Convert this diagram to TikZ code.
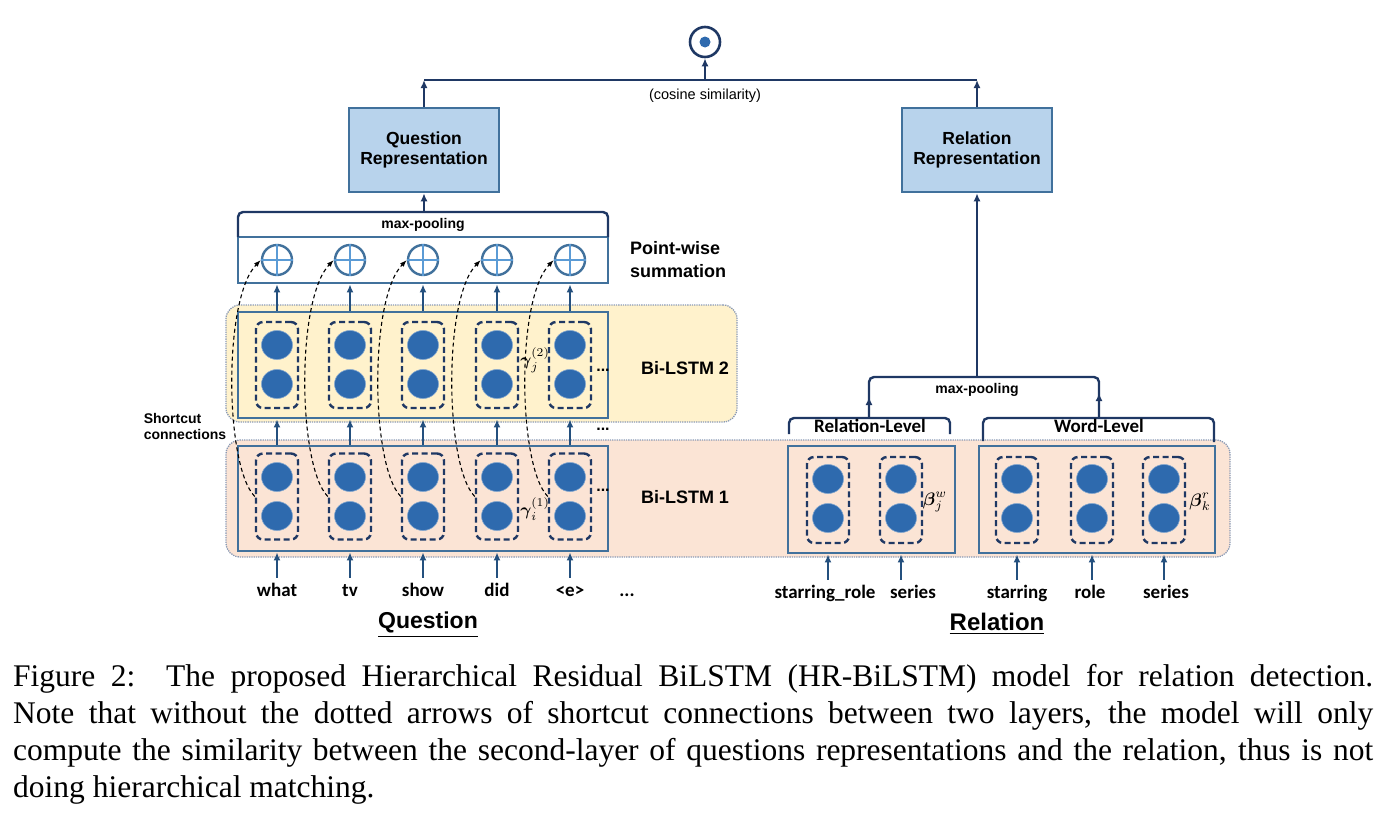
\documentclass[tikz,border=0pt]{standalone}
\usepackage{amsmath}
\usepackage{fontspec}
\setmainfont{Liberation Serif}
\newfontfamily\lsans{Liberation Sans}
\newfontfamily\calib{Carlito}
\usetikzlibrary{arrows.meta,shapes.geometric}
\definecolor{navy}{HTML}{1F3864}
\definecolor{arrowblue}{HTML}{24507E}
\definecolor{steel}{HTML}{41719C}
\definecolor{cellblue}{HTML}{2E6AAE}
\definecolor{plusblue}{HTML}{5B9BD5}
\definecolor{repfill}{HTML}{B8D3EC}
\definecolor{yellowbg}{HTML}{FFF2CC}
\definecolor{pinkbg}{HTML}{FBE4D5}
\definecolor{bgline}{HTML}{8A9AB5}
\tikzset{
  arr/.style={-{Latex[length=8,width=7]}, line width=2.2, draw=arrowblue},
  navyarr/.style={-{Latex[length=8,width=7]}, line width=2.2, draw=navy},
  bracket/.style={draw=navy, line width=2.4, rounded corners=5},
  cellbox/.style={draw=navy, line width=2.4, dash pattern=on 6 off 3.5, rounded corners=7, minimum width=42, minimum height=86, inner sep=0},
  neuron/.style={ellipse, fill=cellblue, draw=cellblue!60!white, line width=0.6, minimum width=31, minimum height=29, inner sep=0},
  inbox/.style={draw=steel, line width=2.8, minimum width=370, inner sep=0},
  bgbox/.style={rounded corners=14, draw=bgline, densely dotted, line width=1.3, inner sep=0},
  repbox/.style={draw=steel, line width=2.6, fill=repfill, minimum width=150, minimum height=84, align=center, font={\lsans\bfseries\fontsize{17.5}{20}\selectfont}},
  plus/.style={circle, draw=steel, line width=2.4, fill=white, minimum size=30, inner sep=0},
  shortcut/.style={-{Latex[length=7,width=5]}, draw=black, line width=1.1, dash pattern=on 4 off 3},
  lbl/.style={font={\lsans\bfseries\fontsize{18}{23}\selectfont}, inner sep=0},
  small/.style={font={\lsans\bfseries\fontsize{14}{16}\selectfont}, inner sep=0},
  word/.style={font={\calib\bfseries\fontsize{19}{20}\selectfont}, anchor=base, text height=13, text depth=4, inner xsep=1, inner ysep=5},
  mlbl/.style={inner sep=0},
  dots/.style={font={\lsans\bfseries\fontsize{16}{16}\selectfont}, inner sep=0}
}
\begin{document}
\begin{tikzpicture}[x=1pt,y=-1pt]
\useasboundingbox (0,0) rectangle (1388,822);

% ---------- backgrounds ----------
\node[bgbox, fill=yellowbg, minimum width=511, minimum height=117] (bg2) at (481.5,363.5) {};
\node[bgbox, fill=pinkbg, minimum width=1004, minimum height=117] (bg1) at (728,498.5) {};

% ---------- top ----------
\node[circle, draw=navy, line width=2.6, minimum size=30, inner sep=0] (dot) at (705,42) {};
\node[circle, fill=cellblue, minimum size=11, inner sep=0] (dotin) at (dot) {};
\node[repbox] (qrep) at (424,150) {Question\\Representation};
\node[repbox] (rrep) at (977,150) {Relation\\Representation};
\coordinate (jl) at (424,80);
\coordinate (jr) at (977,80);
\coordinate (jm) at (705,80);
\draw[navy, line width=2.2] (jl) -- (jr);
\draw[navyarr] (qrep.north) -- (jl);
\draw[navyarr] (rrep.north) -- (jr);
\draw[navyarr] (jm) -- (dot.south);
\node[font={\lsans\fontsize{14.5}{16}\selectfont}, inner sep=0] (cos) at (705,96) {(cosine similarity)};

% ---------- question max-pooling + point-wise ----------
\node[inbox, minimum height=46] (pw) at (423,260) {};
\draw[bracket] (238,237) -- (238,212) -- (608,212) -- (608,237);
\coordinate (qmp) at (424,212);
\node[small] (qmplbl) at (423,225) {max-pooling};
\draw[navyarr] (qmp) -- (qrep.south);
\node[lbl, anchor=west, align=left] (pwlbl) at (630,260) {Point-wise\\summation};

% ---------- inner boxes ----------
\node[inbox, minimum height=106] (box2) at (423,365) {};
\node[inbox, minimum height=105] (box1) at (423,498.5) {};
\node[inbox, minimum width=167, minimum height=107] (rbox) at (871.5,499.5) {};
\node[inbox, minimum width=236, minimum height=107] (wbox) at (1097,499.5) {};

% ---------- question columns ----------
\foreach \i/\x/\w in {1/277/what,2/350/tv,3/423/show,4/497/did,5/570/{<e>}}{
  \node[plus] (p\i) at (\x,260) {};
  \draw[plusblue, line width=2] (p\i.north) -- (p\i.south) (p\i.west) -- (p\i.east);
  \node[cellbox] (qb\i) at (\x,365) {};
  \node[neuron] (qbu\i) at (\x,345) {};
  \node[neuron] (qbd\i) at (\x,384) {};
  \node[cellbox] (qa\i) at (\x,496.5) {};
  \node[neuron] (qau\i) at (\x,477) {};
  \node[neuron] (qad\i) at (\x,516) {};
  \node[word] (w\i) at (\x,596) {\w};
  \draw[arr] (box2.north -| p\i) -- (pw.south -| p\i);
  \draw[arr] (box1.north -| p\i) -- (box2.south -| p\i);
  \draw[arr] (w\i.north) -- (box1.south -| w\i);
}
\foreach \i in {1,...,5}{
  \draw[shortcut] (qa\i.west) .. controls +(-30,-30) and +(-38,39) .. (p\i.west);
}
\node[word] (w6) at (627,596) {...};
\node[dots] (d2) at (603,370) {...};
\node[dots] (d12) at (603,429) {...};
\node[dots] (d1) at (603,490) {...};
\node[mlbl] (g2) at (535,360) {\scalebox{1.7}{$\boldsymbol{\gamma}^{(2)}_{j}$}};
\node[mlbl] (g1) at (535,509) {\scalebox{1.7}{$\boldsymbol{\gamma}^{(1)}_{i}$}};
\node[lbl] (l2) at (685,368) {Bi-LSTM 2};
\node[lbl] (l1) at (685,497) {Bi-LSTM 1};
\node[small, align=left] (sc) at (185,426) {Shortcut\\connections};
\node[font={\lsans\bfseries\fontsize{23}{26}\selectfont}, inner sep=0] (qtitle) at (428,625) {\underline{Question}};

% ---------- relation columns ----------
\foreach \i/\x in {1/828,2/901}{
  \node[cellbox] (rc\i) at (\x,500) {};
  \node[neuron] (rcu\i) at (\x,479) {};
  \node[neuron] (rcd\i) at (\x,518) {};
}
\foreach \i/\x in {1/1017,2/1092,3/1164}{
  \node[cellbox] (wc\i) at (\x,500) {};
  \node[neuron] (wcu\i) at (\x,479) {};
  \node[neuron] (wcd\i) at (\x,518) {};
}
\node[word] (rw1) at (825,598) {starring\_role};
\node[word] (rw2) at (913,598) {series};
\node[word] (ww1) at (1017,598) {starring};
\node[word] (ww2) at (1090,598) {role};
\node[word] (ww3) at (1166,598) {series};
\draw[arr] (rw1.north -| rc1) -- (rbox.south -| rc1);
\draw[arr] (rw2.north -| rc2) -- (rbox.south -| rc2);
\draw[arr] (ww1.north -| wc1) -- (wbox.south -| wc1);
\draw[arr] (ww2.north -| wc2) -- (wbox.south -| wc2);
\draw[arr] (ww3.north -| wc3) -- (wbox.south -| wc3);
\node[mlbl] (bw) at (935,502) {\scalebox{1.8}{$\boldsymbol{\beta}^{w}_{j}$}};
\node[mlbl] (br) at (1200,502) {\scalebox{1.8}{$\boldsymbol{\beta}^{r}_{k}$}};

% brackets
\draw[bracket] (789,434) -- (789,418) -- (950,418) -- (950,434);
\draw[bracket] (983,441) -- (983,418) -- (1214,418) -- (1214,442);
\node[word, anchor=center, inner ysep=0] (rl) at (870,428) {Relation-Level};
\node[word, anchor=center, inner ysep=0] (wl) at (1099,428) {Word-Level};
\coordinate (rlt) at (869,418);
\coordinate (wlt) at (1099,418);
\coordinate (rmp) at (977,377);
\draw[bracket] (rlt) -- (869,377) -- (1099,377) -- (wlt);
\draw[navyarr] (rlt) -- (869,397);
\draw[navyarr] (wlt) -- (1099,393);
\node[small] (rmplbl) at (977,390) {max-pooling};
\draw[navyarr] (rmp) -- (rrep.south);
\node[font={\lsans\bfseries\fontsize{24}{26}\selectfont}, inner sep=0] (rtitle) at (997,624) {\underline{Relation}};

% ---------- caption ----------
\node[anchor=north west, text width=1360, align=justify, inner sep=0, font={\fontsize{31.5}{37}\selectfont}] (cap) at (13,664.5) {Figure 2:\ \ The proposed Hierarchical Residual BiLSTM (HR-BiLSTM) model for relation detection.\linebreak Note that without the dotted arrows of shortcut connections between two layers, the model will only\linebreak compute the similarity between the second-layer of questions representations and the relation, thus is not\linebreak doing hierarchical matching.};
\end{tikzpicture}
\end{document}
